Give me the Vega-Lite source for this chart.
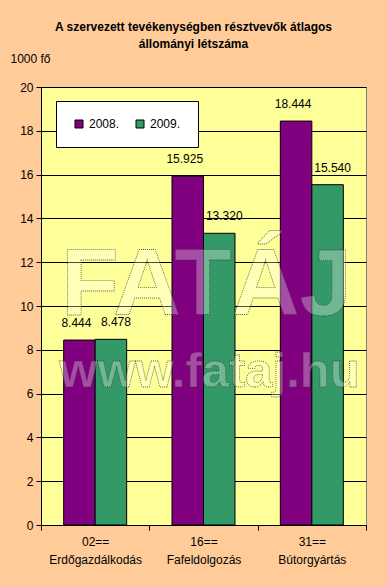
{
  "$schema": "https://vega.github.io/schema/vega-lite/v6.json",
  "autosize": "none",
  "width": 325,
  "height": 438,
  "padding": {"left": 41, "top": 87, "right": 21, "bottom": 61},
  "background": "#FFCC99",
  "title": {
    "text": ["A szervezett tevékenységben résztvevők átlagos", "állományi létszáma"],
    "font": "Liberation Sans",
    "fontSize": 12,
    "fontWeight": "bold",
    "color": "#000000",
    "anchor": "middle",
    "frame": "group",
    "dx": -10,
    "offset": 1,
    "lineHeight": 17
  },
  "config": {
    "view": {"fill": "#FFFF99", "stroke": "#808080", "strokeWidth": 1},
    "font": "Liberation Sans",
    "axis": {
      "labelFont": "Liberation Sans",
      "labelFontSize": 12,
      "labelColor": "#000000",
      "domainColor": "#000000",
      "tickColor": "#000000",
      "gridColor": "#000000",
      "gridOpacity": 1,
      "tickSize": 5
    }
  },
  "data": {
    "values": [
      {"cat": "02==|Erdőgazdálkodás", "year": "2008.", "v": 8.444},
      {"cat": "02==|Erdőgazdálkodás", "year": "2009.", "v": 8.478},
      {"cat": "16==|Fafeldolgozás", "year": "2008.", "v": 15.925},
      {"cat": "16==|Fafeldolgozás", "year": "2009.", "v": 13.32},
      {"cat": "31==|Bútorgyártás", "year": "2008.", "v": 18.444},
      {"cat": "31==|Bútorgyártás", "year": "2009.", "v": 15.54}
    ]
  },
  "encoding": {
    "x": {
      "field": "cat",
      "type": "nominal",
      "sort": null,
      "scale": {"paddingInner": 0, "paddingOuter": 0},
      "axis": {
        "title": null,
        "labelAngle": 0,
        "tickBand": "extent",
        "labelExpr": "datum.value ? split(datum.value, '|') : ''",
        "labelLineHeight": 18,
        "labelPadding": 6,
        "grid": false
      }
    }
  },
  "layer": [
    {
      "mark": {"type": "bar", "stroke": "#000000", "strokeWidth": 1},
      "encoding": {
        "xOffset": {"field": "year", "type": "nominal", "scale": {"paddingInner": 0, "paddingOuter": 0.72}},
        "y": {
          "field": "v",
          "type": "quantitative",
          "scale": {"domain": [0, 20], "nice": false},
          "axis": {
            "values": [0, 2, 4, 6, 8, 10, 12, 14, 16, 18, 20],
            "grid": true,
            "title": "1000 fő",
            "titleFont": "Liberation Sans",
            "titleFontSize": 12,
            "titleFontWeight": "normal",
            "titleColor": "#000000",
            "titleAngle": 0,
            "titleAlign": "left",
            "titleBaseline": "alphabetic",
            "titleX": -31,
            "titleY": -25,
            "labelPadding": 3
          }
        },
        "color": {
          "field": "year",
          "type": "nominal",
          "scale": {"range": ["#800080", "#339966"]},
          "legend": {
            "title": null,
            "orient": "none",
            "legendX": 15,
            "legendY": 14,
            "direction": "horizontal",
            "columns": 2,
            "fillColor": "#FFFFFF",
            "strokeColor": "#000000",
            "padding": 17,
            "columnPadding": 14,
            "symbolType": "square",
            "symbolSize": 64,
            "symbolStrokeColor": "#000000",
            "symbolStrokeWidth": 1,
            "symbolOpacity": 1,
            "labelFont": "Liberation Sans",
            "labelFontSize": 12,
            "labelColor": "#000000",
            "labelOffset": 4
          }
        }
      }
    },
    {
      "transform": [{"filter": "datum.year == '2008.'"}],
      "mark": {"type": "text", "baseline": "alphabetic", "dy": -13, "dx": -3, "font": "Liberation Sans", "fontSize": 12, "color": "#000000"},
      "encoding": {
        "xOffset": {"field": "year", "type": "nominal", "scale": {"domain": ["2008.", "2009."], "paddingInner": 0, "paddingOuter": 0.72}},
        "y": {"field": "v", "type": "quantitative"},
        "text": {"field": "v", "type": "quantitative", "format": ".3f"}
      }
    },
    {
      "transform": [{"filter": "datum.year == '2009.'"}],
      "mark": {"type": "text", "baseline": "alphabetic", "dy": -13, "dx": 5, "font": "Liberation Sans", "fontSize": 12, "color": "#000000"},
      "encoding": {
        "xOffset": {"field": "year", "type": "nominal", "scale": {"domain": ["2008.", "2009."], "paddingInner": 0, "paddingOuter": 0.72}},
        "y": {"field": "v", "type": "quantitative"},
        "text": {"field": "v", "type": "quantitative", "format": ".3f"}
      }
    },
    {
      "data": {
        "values": [
          {"cat": "16==|Fafeldolgozás", "wv": 9.6, "wt": "FATÁJ"}
        ]
      },
      "mark": {"type": "text", "baseline": "alphabetic", "align": "center", "dx": 3, "font": "Liberation Sans", "fontWeight": "bold", "fontSize": 94, "fill": "#FFFFFF", "fillOpacity": 0.3, "stroke": "#333333", "strokeWidth": 0.8, "strokeDash": [1, 1], "strokeOpacity": 0.8},
      "encoding": {
        "y": {"field": "wv", "type": "quantitative"},
        "text": {"field": "wt"}
      }
    },
    {
      "data": {
        "values": [
          {"cat": "16==|Fafeldolgozás", "wv": 6.3, "wt": "www.fataj.hu"}
        ]
      },
      "mark": {"type": "text", "baseline": "alphabetic", "align": "center", "dx": 6, "font": "Liberation Sans", "fontWeight": "bold", "fontSize": 49, "fill": "#FFFFFF", "fillOpacity": 0.3, "stroke": "#333333", "strokeWidth": 0.8, "strokeDash": [1, 1], "strokeOpacity": 0.8},
      "encoding": {
        "y": {"field": "wv", "type": "quantitative"},
        "text": {"field": "wt"}
      }
    }
  ]
}
